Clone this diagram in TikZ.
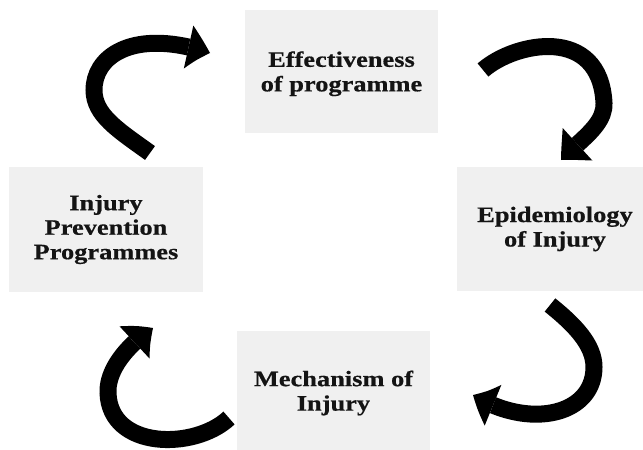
\documentclass[tikz,border=0pt]{standalone}
\usepackage{fontspec}
\newfontfamily\boxfont{Liberation Serif}[FakeStretch=1.2,FakeBold=0.6]
\usetikzlibrary{arrows.meta,bending}
\definecolor{boxgray}{HTML}{F0F0F0}
\definecolor{boxtext}{HTML}{141414}
\begin{document}
\begin{tikzpicture}[x=1pt,y=-1pt,
  stagebox/.style={fill=boxgray, draw=none, inner sep=0pt, align=center,
    text=boxtext, font=\boxfont\bfseries\fontsize{22}{24.5}\selectfont},
  cyclearrow/.style={line width=17pt,
    -{Triangle[length=23pt,width=44pt,line width=0pt,bend]}}]
\useasboundingbox (0,0) rectangle (643,450);

% the four stages of the cycle
\node[stagebox, minimum width=193pt, minimum height=123pt] (eff) at (341.5,71.5)
  {\rule{0pt}{20pt}Effectiveness\\of programme};
\node[stagebox, minimum width=196pt, minimum height=124pt] (epi) at (555,229)
  {Epidemiology\\of Injury};
\node[stagebox, minimum width=193pt, minimum height=124pt] (mech) at (333.5,393)
  {Mechanism of\\Injury};
\node[stagebox, minimum width=194pt, minimum height=125pt] (prev) at (106,229.5)
  {Injury\\Prevention\\Programmes};

% end points of the curved arrows between the stages
\coordinate (a1s) at (150,153);  \coordinate (a1m) at (94,90);   \coordinate (a1e) at (210,53);
\coordinate (a2s) at (483,70);   \coordinate (a2m) at (604,103);  \coordinate (a2e) at (561,160);
\coordinate (a3s) at (550,305);  \coordinate (a3m) at (594,367);  \coordinate (a3e) at (473,395);
\coordinate (a4s) at (229,418);  \coordinate (a4m) at (108,393);  \coordinate (a4e) at (153,328);

\draw[cyclearrow] (a1s) .. controls (118,130) and (94,115) .. (a1m)
                        .. controls (94,55) and (135,28) .. (a1e);
\draw[cyclearrow] (a2s) .. controls (515,42) and (600,25) .. (a2m)
                        .. controls (605,125) and (580,140) .. (a2e);
\draw[cyclearrow] (a3s) .. controls (575,325) and (594,345) .. (a3m)
                        .. controls (594,415) and (530,430) .. (a3e);
\draw[cyclearrow] (a4s) .. controls (195,450) and (110,450) .. (a4m)
                        .. controls (107,368) and (130,343) .. (a4e);
\end{tikzpicture}
\end{document}
